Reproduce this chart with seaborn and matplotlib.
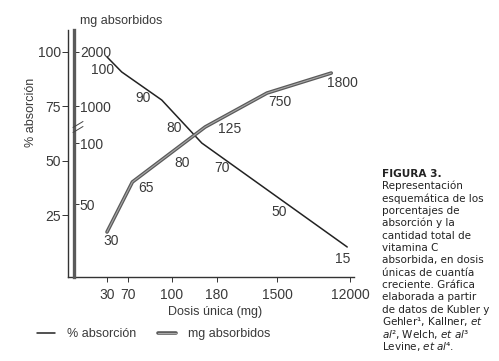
import numpy as np
import matplotlib
matplotlib.use('Agg')
import matplotlib.pyplot as plt
import matplotlib.patheffects as pe
from matplotlib.lines import Line2D
import seaborn as sns

# ticks / etiquetas de los ejes
dose_ticks = [30, 70, 100, 180, 1500, 12000]
pct_ticks = [100, 75, 50, 25]
mg_tick_labels = ['2000', '1000', '100', '50']
mg_tick_pct = [100, 75, 58, 30]   # altura (en % absorcion) de cada marca en mg

# curva % absorcion (vertices, esquematica)
abs_dose = [30, 58, 93, 153, 11600]
abs_pct = [97.7, 90.8, 77.9, 58.1, 10.3]
abs_labels = ['100', '90', '80', '70', '50', '15']

# curva mg absorbidos
mg_dose = [30, 73, 159, 1280, 9300]
mg_pct = [17.2, 40.2, 65.5, 81.1, 90.3]
mg_labels = ['30', '65', '80', '125', '750', '1800']

caption = [
    r'Representación',
    r'esquemática de los',
    r'porcentajes de',
    r'absorción y la',
    r'cantidad total de',
    r'vitamina C',
    r'absorbida, en dosis',
    r'únicas de cuantía',
    r'creciente. Gráfica',
    r'elaborada a partir',
    r'de datos de Kubler y',
    r'Gehler¹, Kallner, $\mathit{et}$',
    r'$\mathit{al}$², Welch, $\mathit{et\ al}$³',
    r'Levine, $\mathit{et\ al}$⁴.',
]

sns.set_style('white')
plt.rcParams['font.family'] = ['Liberation Sans', 'DejaVu Sans']
plt.rcParams['mathtext.fontset'] = 'dejavusans'
txt = '#3a3a3a'
W, H = 499, 361

fig = plt.figure(figsize=(W / 100, H / 100), dpi=100)
ax = fig.add_axes([68 / W, 1 - 277 / H, (354 - 68) / W, 247 / H])

# eje x no lineal: cada dosis ocupa su lugar del esquema
anchor_dose = [0] + dose_ticks + [13000]
anchor_pos = [68, 107, 128, 172, 217, 277, 350, 354]
fwd = lambda d: np.interp(d, anchor_dose, anchor_pos)
inv = lambda p: np.interp(p, anchor_pos, anchor_dose)
ax.set_xscale('function', functions=(fwd, inv))
ax.set_xlim(0, 13000)
ax.set_ylim(-3.5, 110.1)

sns.lineplot(x=abs_dose, y=abs_pct, sort=False, estimator=None, ax=ax,
             color='#222222', lw=1.1, label='% absorción')
sns.lineplot(x=mg_dose, y=mg_pct, sort=False, estimator=None, ax=ax,
             color='#a8a8a8', lw=0.8, label='mg absorbidos',
             path_effects=[pe.Stroke(linewidth=2.6, foreground='#5a5a5a'), pe.Normal()])
handles = ax.get_legend().legend_handles
ax.get_legend().remove()

# etiquetas de valores sobre las curvas
abs_off = [(-4, -13), (15, -22), (2, -17), (5, -14), (2, -15), (-7, -12)]
mg_off = [(4, -9), (18, 3), (10, -11), (13, -9), (3, -12), (-8, -10)]
for xs, ys, labs, offs in [(abs_dose, abs_pct, abs_labels, abs_off),
                           (mg_dose, mg_pct, mg_labels, mg_off)]:
    for d, lab, off in zip(dose_ticks, labs, offs):
        yv = np.interp(fwd(d), fwd(np.array(xs)), ys)
        ax.annotate(lab, (d, yv), xytext=off, textcoords='offset pixels',
                    ha='center', va='center', fontsize=10, color=txt)

# ejes
for s in ['top', 'right']:
    ax.spines[s].set_visible(False)
for s in ['left', 'bottom']:
    ax.spines[s].set_color('#333333')
    ax.spines[s].set_linewidth(1.0)
ax.set_xticks(dose_ticks)
ax.set_xticklabels([str(d) for d in dose_ticks])
ax.set_yticks(pct_ticks)
ax.set_yticks([100, 75], minor=True)
ax.tick_params(axis='y', which='major', direction='out', length=4.3, width=0.7,
               color='#333333', pad=0.8, labelsize=10, labelcolor=txt, left=True)
ax.tick_params(axis='y', which='minor', direction='in', length=3.8, width=0.7,
               color='#333333', left=True)
ax.tick_params(axis='x', direction='out', length=3.6, width=0.7, color='#333333',
               pad=4, labelsize=10, labelcolor=txt, bottom=True)
ax.xaxis.set_minor_locator(matplotlib.ticker.NullLocator())

ax.text(-0.129, 0.668, '% absorción', rotation=90, ha='center', va='center',
        fontsize=9, color=txt, transform=ax.transAxes)
ax.text(0.514, -0.142, 'Dosis única (mg)', ha='center', va='center',
        fontsize=9, color=txt, transform=ax.transAxes)
ax.text(0.042, 1.036, 'mg absorbidos', ha='left', va='center',
        fontsize=9, color=txt, transform=ax.transAxes)

# segundo eje (mg) con linea doble gris
ax2 = fig.add_axes([70 / W, 1 - 277 / H, 3.5 / W, 247 / H])
ax2.patch.set_visible(False)
ax2.set_ylim(ax.get_ylim())
ax2.set_xlim(0, 1)
for s in ['top', 'left', 'bottom']:
    ax2.spines[s].set_visible(False)
ax2.spines['right'].set_color('#5a5a5a')
ax2.spines['right'].set_linewidth(2.4)
ax2.axvline(1, color='#b0b0b0', lw=0.7, clip_on=False)
ax2.set_xticks([])
ax2.yaxis.tick_right()
ax2.set_yticks(mg_tick_pct)
ax2.set_yticklabels(mg_tick_labels)
ax2.tick_params(axis='y', direction='out', length=3.6, width=0.7, color='#333333',
                pad=1, labelsize=10, labelcolor=txt)

# marca de corte en el eje de mg
for y0 in [127.5, 132.5]:
    fig.add_artist(Line2D([73 / W, 83 / W], [1 - y0 / H, 1 - (y0 - 6) / H],
                          color='#444444', lw=0.7, transform=fig.transFigure))

# leyenda
fig.legend(handles=handles, labels=['% absorción', 'mg absorbidos'],
           loc='center left', bbox_to_anchor=(37 / W, 1 - 334 / H), ncol=2,
           frameon=False, borderpad=0, borderaxespad=0, handlelength=1.45,
           handletextpad=0.95, columnspacing=1.7, prop={'size': 9},
           labelcolor=txt)

# pie de figura
cx = 382 / W
fig.text(cx, 1 - 177 / H, 'FIGURA 3.', fontsize=7.6, fontweight='bold',
         family='DejaVu Sans', color='#222222', va='baseline')
for i, line in enumerate(caption):
    yb = 177 + 12.35 * (i + 1)
    fig.text(cx, 1 - yb / H, line, fontsize=7.5, family='DejaVu Sans',
             color='#222222', va='baseline')

fig.savefig('out.png', dpi=100)
